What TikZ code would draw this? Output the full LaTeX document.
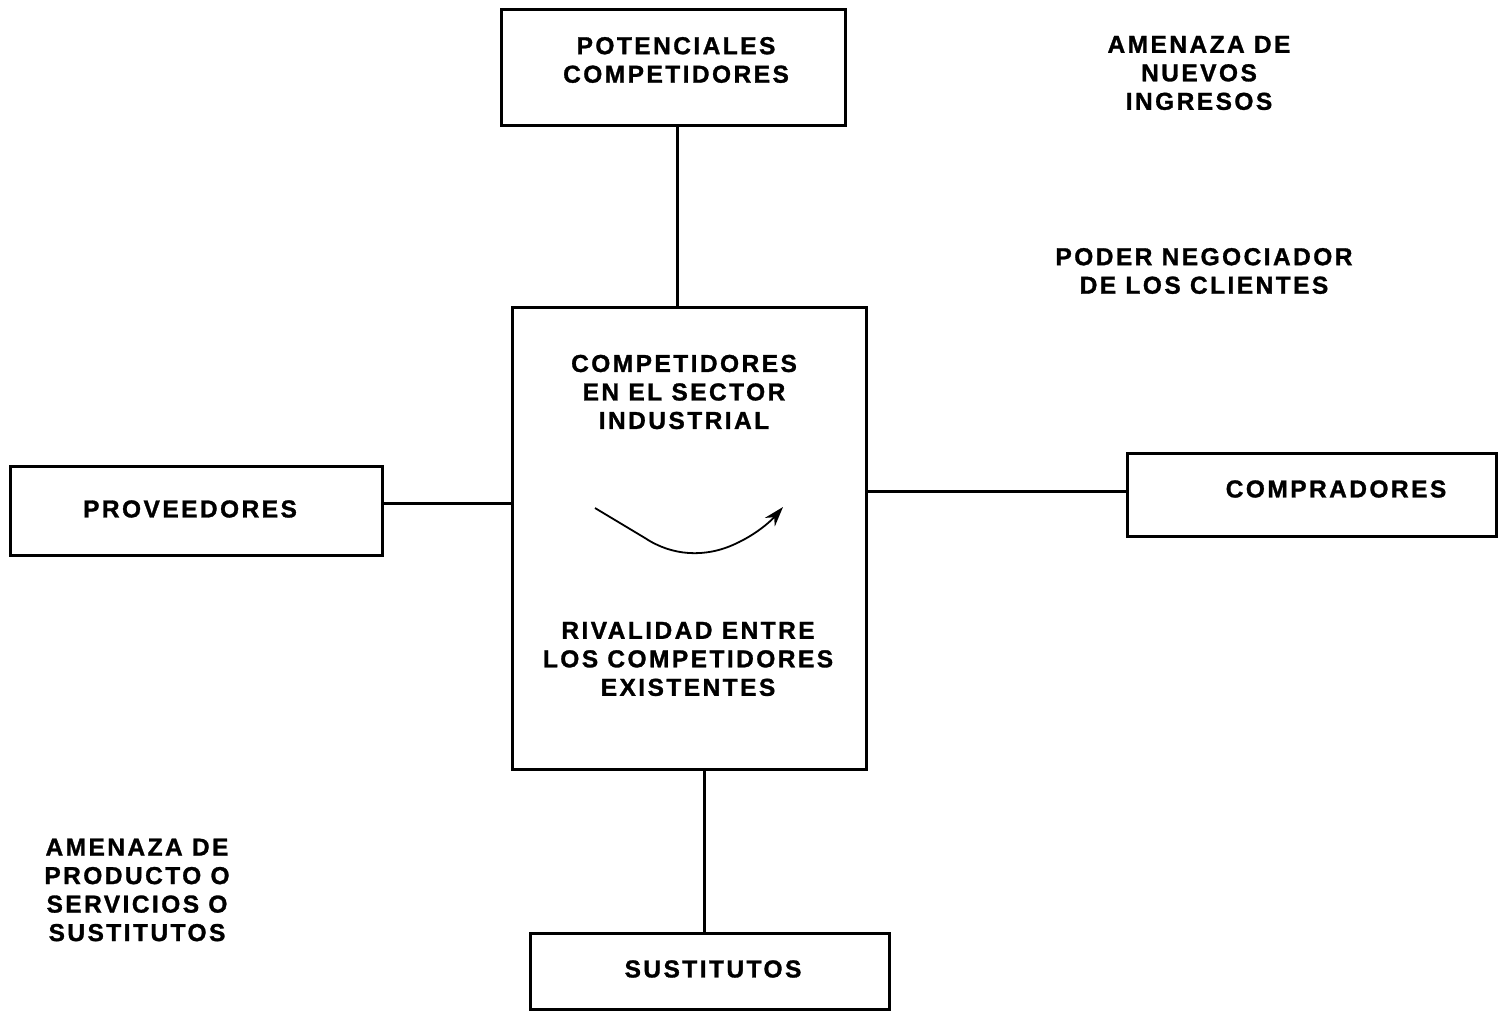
\documentclass[tikz,border=0pt]{standalone}
\usepackage{fontspec}
\setmainfont{Liberation Sans}[LetterSpace=10,BoldFeatures={FakeBold=1.2}]
\usetikzlibrary{arrows.meta}
\begin{document}
\begin{tikzpicture}[x=1pt,y=-1pt,
  box/.style={draw,line width=2.8pt,rectangle,inner sep=0pt,anchor=north west},
  lbl/.style={font=\fontsize{24.5}{28.5}\selectfont\bfseries,align=center,inner sep=0pt},
  conn/.style={line width=2.8pt}]
\useasboundingbox (0,0) rectangle (1505,1010);
% boxes
\node[box,minimum width=344pt,minimum height=116pt] (top) at (500,8) {};
\node[box,minimum width=354pt,minimum height=462pt] (center) at (511,306) {};
\node[box,minimum width=372pt,minimum height=89pt] (left) at (9,465) {};
\node[box,minimum width=369pt,minimum height=83pt] (right) at (1126,452) {};
\node[box,minimum width=359pt,minimum height=76pt] (bottom) at (529,932) {};
% box texts
\node[lbl] (topT) at (676,60) {POTENCIALES\\COMPETIDORES};
\node[lbl] (leftT) at (190,509) {PROVEEDORES};
\node[lbl] (rightT) at (1336,489) {COMPRADORES};
\node[lbl] (bottomT) at (713,969) {SUSTITUTOS};
\node[lbl] (centerT1) at (684,392) {COMPETIDORES\\EN EL SECTOR\\INDUSTRIAL};
\node[lbl] (centerT2) at (688,659) {RIVALIDAD ENTRE\\LOS COMPETIDORES\\EXISTENTES};
% free labels
\node[lbl] (nuevos) at (1199,73) {AMENAZA DE\\NUEVOS\\INGRESOS};
\node[lbl] (clientes) at (1204,271) {PODER NEGOCIADOR\\DE LOS CLIENTES};
\node[lbl] (sustit) at (137,890) {AMENAZA DE\\PRODUCTO O\\SERVICIOS O\\SUSTITUTOS};
% connectors
\draw[conn] ([xshift=4pt]top.south) -- ([xshift=4pt]top.south |- center.north);
\draw[conn] ([yshift=7.5pt]left.east) -- ([yshift=7.5pt]left.east -| center.west);
\draw[conn] ([yshift=3.5pt]right.west) -- ([yshift=3.5pt]right.west -| center.east);
\draw[conn] ([xshift=-5.5pt]bottom.north) -- ([xshift=-5.5pt]bottom.north |- center.south);
% curved arrow
\coordinate (cA) at (595,508);
\coordinate (cB) at (783,507);
\draw[line width=1.8pt,-{Stealth[length=20pt,width=13pt]}] (cA) -- (645,538)
  .. controls (672,556) and (705,558) .. (735,544)
  .. controls (755,535) and (770,522) .. (cB);
\end{tikzpicture}
\end{document}
